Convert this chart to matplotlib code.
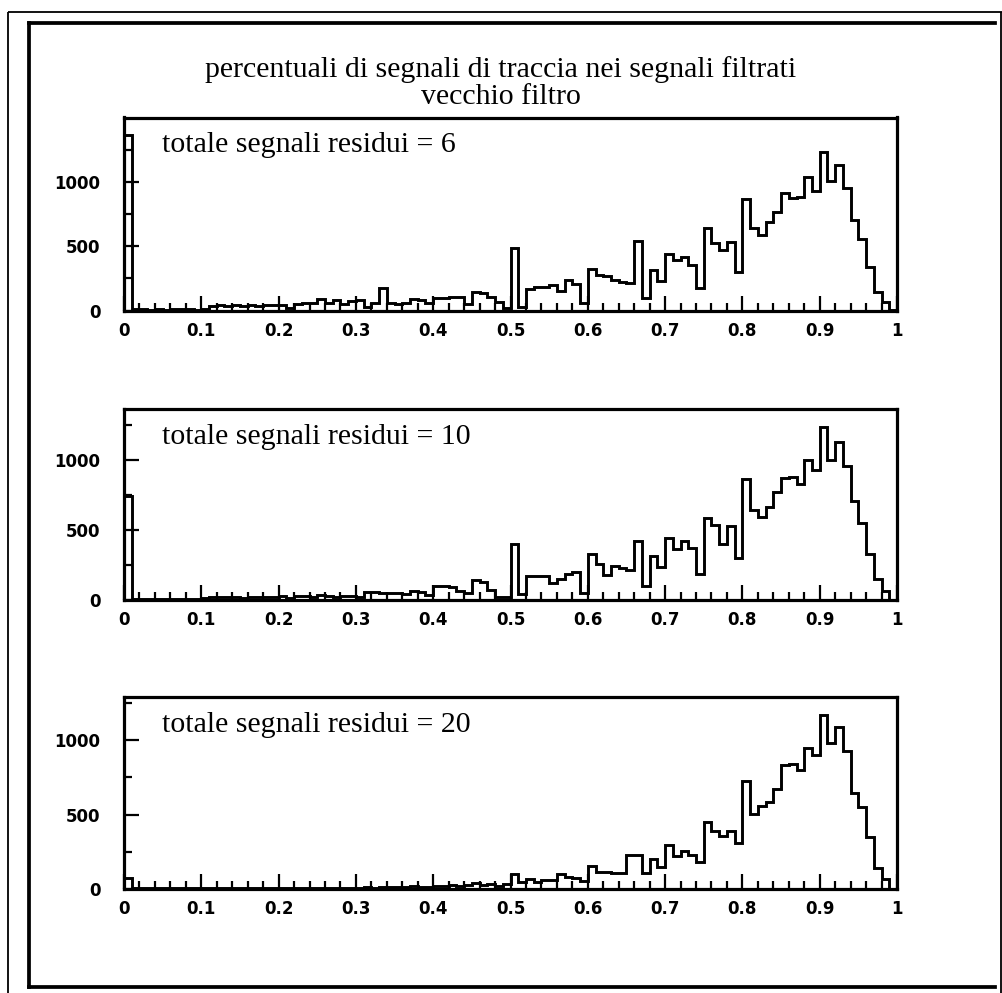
import matplotlib
matplotlib.use("Agg")
import matplotlib.pyplot as plt
import numpy as np
from matplotlib.lines import Line2D
from matplotlib.ticker import MultipleLocator, FuncFormatter

# Histogram bins: 100 bins of width 0.01 over [0, 1]
bin_edges = np.round(np.linspace(0.0, 1.0, 101), 2)

# Fraction of track signals among filtered signals, old filter
counts_res6 = [
    1362, 10, 12, 8, 10, 9, 12, 10, 11, 9,
    15, 40, 42, 38, 45, 40, 44, 38, 46, 42,
    48, 20, 55, 57, 60, 92, 57, 83, 50, 75,
    83, 30, 60, 173, 57, 55, 60, 90, 85, 60,
    100, 100, 108, 110, 55, 147, 140, 108, 70, 18,
    488, 31, 165, 181, 186, 196, 155, 238, 207, 62,
    325, 274, 269, 238, 222, 217, 543, 98, 315, 233,
    439, 393, 419, 351, 178, 643, 527, 470, 530, 300,
    868, 638, 589, 687, 767, 915, 873, 884, 1034, 925,
    1230, 1003, 1132, 953, 703, 553, 341, 142, 65, 2,
]

counts_res10 = [
    740, 8, 6, 9, 7, 8, 10, 7, 9, 8,
    12, 20, 22, 18, 25, 15, 22, 20, 24, 18,
    26, 15, 28, 30, 22, 35, 30, 25, 32, 28,
    25, 59, 55, 50, 47, 48, 40, 66, 59, 35,
    99, 99, 95, 66, 47, 142, 130, 71, 24, 20,
    402, 43, 173, 173, 173, 118, 147, 184, 201, 52,
    331, 255, 180, 246, 229, 213, 421, 99, 317, 236,
    444, 364, 421, 374, 184, 584, 539, 402, 527, 298,
    868, 643, 591, 662, 775, 870, 882, 832, 1002, 929,
    1239, 1002, 1130, 955, 709, 548, 331, 151, 64, 2,
]

counts_res20 = [
    74, 8, 6, 7, 6, 8, 7, 6, 7, 8,
    9, 8, 10, 9, 8, 10, 9, 8, 10, 9,
    10, 9, 11, 10, 9, 12, 10, 11, 10, 12,
    12, 14, 12, 15, 14, 18, 16, 20, 18, 17,
    24, 22, 28, 25, 30, 40, 28, 38, 20, 36,
    103, 52, 70, 52, 63, 63, 101, 85, 74, 58,
    159, 119, 119, 108, 108, 229, 229, 108, 202, 152,
    298, 224, 260, 231, 186, 451, 388, 354, 392, 309,
    729, 504, 561, 583, 673, 830, 839, 798, 946, 901,
    1170, 982, 1085, 930, 646, 552, 350, 143, 70, 3,
]

residual_totals = [6, 10, 20]
panel_counts = [counts_res6, counts_res10, counts_res20]
title_lines = ["percentuali di segnali di traccia nei segnali filtrati", "vecchio filtro"]

W, H = 1002, 993
fig = plt.figure(figsize=(W / 100, H / 100), dpi=100)
fig.patch.set_facecolor("white")


def fx(px):
    return px / W


def fy(py):
    return 1 - py / H


# Page frame: thin outer edge and heavy inner border
frame_thin = dict(color="black", lw=1.3, solid_capstyle="butt")
frame_thick = dict(color="black", lw=2.7, solid_capstyle="projecting")
fig.add_artist(Line2D([fx(8), fx(8)], [fy(12), fy(993)], **frame_thin))
fig.add_artist(Line2D([fx(8), fx(1002)], [fy(12), fy(12)], **frame_thin))
fig.add_artist(Line2D([fx(1000.5), fx(1000.5)], [fy(12), fy(993)], **frame_thin))
fig.add_artist(Line2D([fx(29), fx(995)], [fy(22.7), fy(22.7)], **frame_thick))
fig.add_artist(Line2D([fx(29), fx(29)], [fy(22.7), fy(987)], **frame_thick))
fig.add_artist(Line2D([fx(29), fx(995)], [fy(987), fy(987)], **frame_thick))

serif = ["Liberation Serif", "DejaVu Serif"]
sans = ["DejaVu Sans"]

fig.text(0.5, fy(70), title_lines[0], ha="center", va="center",
         family=serif, fontsize=21.5)
fig.text(0.5, fy(97), title_lines[1], ha="center", va="center",
         family=serif, fontsize=21.5)

# Axes boxes in pixel rows (top, bottom)
panel_rows = [(117.5, 310.7), (409.3, 600.0), (697.3, 889.3)]
ax_left, ax_width = 124, 773

tick_fmt = FuncFormatter(lambda v, p: f"{v:g}")

for counts, total, (top, bottom) in zip(panel_counts, residual_totals, panel_rows):
    ax = fig.add_axes([fx(ax_left), fy(bottom), ax_width / W, (bottom - top) / H])
    ax.stairs(counts, bin_edges, baseline=0, color="black", linewidth=2.1)
    ax.set_xlim(0, 1)
    ax.set_ylim(0, 1.1 * max(counts))

    for side in ["top", "right", "bottom", "left"]:
        ax.spines[side].set_linewidth(2.3)

    ax.xaxis.set_major_locator(MultipleLocator(0.1))
    ax.xaxis.set_minor_locator(MultipleLocator(0.02))
    ax.yaxis.set_major_locator(MultipleLocator(500))
    ax.yaxis.set_minor_locator(MultipleLocator(250))
    ax.xaxis.set_major_formatter(tick_fmt)
    ax.yaxis.set_major_formatter(tick_fmt)

    ax.tick_params(which="both", direction="in", top=False, right=False, width=1.6)
    ax.tick_params(which="major", length=11)
    ax.tick_params(which="minor", length=6)
    ax.tick_params(axis="x", which="major", pad=8)
    ax.tick_params(axis="y", which="major", pad=17)
    for lab in ax.get_xticklabels() + ax.get_yticklabels():
        lab.set_family(sans)
        lab.set_fontsize(12)
        lab.set_fontweight("bold")

    ax.text(0.049, 1 - 35 / (bottom - top), f"totale segnali residui = {total}",
            transform=ax.transAxes, ha="left", va="baseline",
            family=serif, fontsize=21.5)

fig.savefig("out.png", dpi=100, facecolor="white")
